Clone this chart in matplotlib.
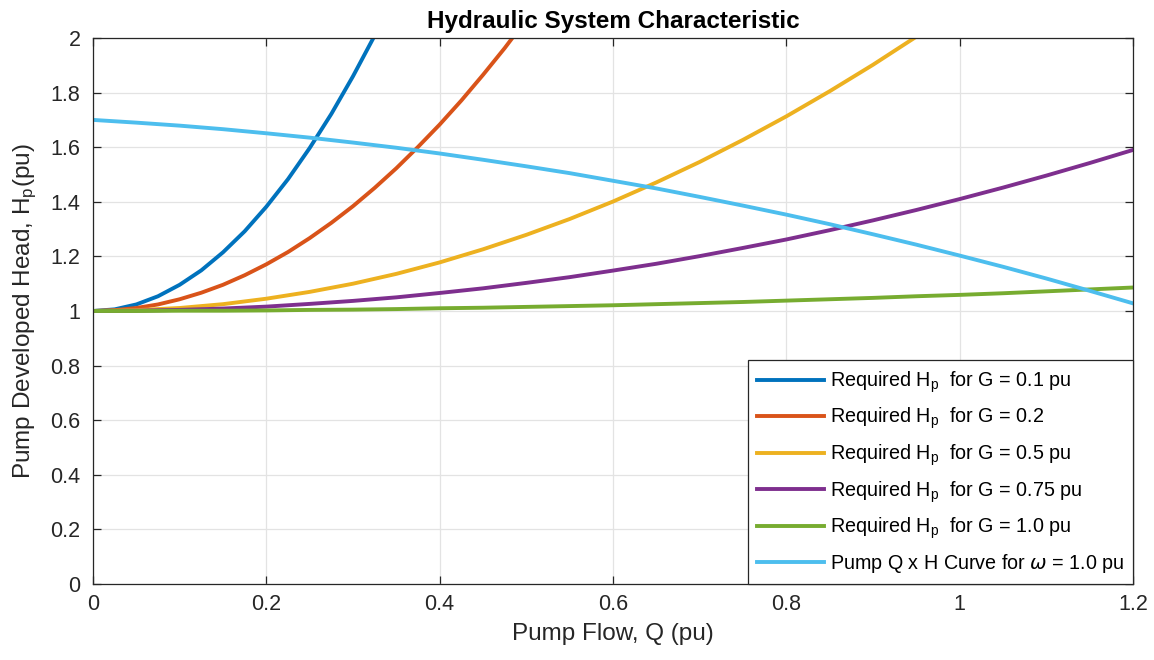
import numpy as np
import matplotlib.pyplot as plt
from matplotlib.ticker import FormatStrFormatter

plt.rcParams['font.family'] = ['Liberation Sans', 'DejaVu Sans']
plt.rcParams['mathtext.default'] = 'regular'

# Flow values (pu)
q_fine = [0, 0.025, 0.05, 0.075, 0.1, 0.125, 0.15, 0.175, 0.2, 0.225, 0.25,
          0.275, 0.3, 0.325, 0.35, 0.375, 0.4, 0.425, 0.45, 0.475, 0.5]
q = [0, 0.05, 0.1, 0.15, 0.2, 0.25, 0.3, 0.35, 0.4, 0.45, 0.5, 0.55, 0.6,
     0.65, 0.7, 0.75, 0.8, 0.85, 0.9, 0.95, 1.0, 1.05, 1.1, 1.15, 1.2]

# Required head for each G
h_g01 = [1.000, 1.006, 1.024, 1.054, 1.096, 1.149, 1.215, 1.292, 1.382, 1.483,
         1.597, 1.722, 1.860, 2.009, 2.170]
h_g02 = [1.000, 1.003, 1.011, 1.024, 1.043, 1.067, 1.096, 1.131, 1.171, 1.216,
         1.267, 1.323, 1.384, 1.451, 1.523, 1.601, 1.683, 1.771, 1.865, 1.963,
         2.068]
h_g05 = [1.000, 1.003, 1.011, 1.025, 1.045, 1.070, 1.100, 1.136, 1.178, 1.226,
         1.279, 1.337, 1.401, 1.471, 1.546, 1.627, 1.713, 1.805, 1.902, 2.005,
         2.114]
h_g075 = [1.000, 1.001, 1.004, 1.009, 1.016, 1.026, 1.037, 1.050, 1.066, 1.083,
          1.103, 1.124, 1.148, 1.173, 1.201, 1.231, 1.262, 1.296, 1.332, 1.370,
          1.410, 1.452, 1.496, 1.542, 1.590]
h_g10 = [1.000, 1.000, 1.001, 1.001, 1.002, 1.004, 1.005, 1.007, 1.010, 1.012,
         1.015, 1.018, 1.021, 1.025, 1.029, 1.033, 1.038, 1.043, 1.048, 1.054,
         1.059, 1.065, 1.072, 1.079, 1.086]
# Pump Q x H curve
h_pump = [1.700, 1.690, 1.679, 1.666, 1.651, 1.635, 1.617, 1.598, 1.577, 1.554,
          1.530, 1.505, 1.477, 1.449, 1.418, 1.386, 1.353, 1.318, 1.281, 1.243,
          1.203, 1.162, 1.119, 1.074, 1.028]

colors = ['#0072BD', '#D95319', '#EDB120', '#7E2F8E', '#77AC30', '#4DBEEE']
labels = ['Required H$_p$  for G = 0.1 pu',
          'Required H$_p$  for G = 0.2',
          'Required H$_p$  for G = 0.5 pu',
          'Required H$_p$  for G = 0.75 pu',
          'Required H$_p$  for G = 1.0 pu',
          'Pump Q x H Curve for $\\mathit{\\omega}$ = 1.0 pu']

fig = plt.figure(figsize=(11.54, 6.6), dpi=100)
ax = fig.add_axes([0.0806, 0.1152, 0.9012, 0.8272])

ax.plot(q_fine[:len(h_g01)], h_g01, color=colors[0], lw=2.8, label=labels[0])
ax.plot(q_fine, h_g02, color=colors[1], lw=2.8, label=labels[1])
ax.plot(q[:len(h_g05)], h_g05, color=colors[2], lw=2.8, label=labels[2])
ax.plot(q, h_g075, color=colors[3], lw=2.8, label=labels[3])
ax.plot(q, h_g10, color=colors[4], lw=2.8, label=labels[4])
ax.plot(q, h_pump, color=colors[5], lw=2.8, label=labels[5])

ax.set_xlim(0, 1.2)
ax.set_ylim(0, 2)
ax.set_xticks(np.arange(0, 1.21, 0.2))
ax.set_yticks(np.arange(0, 2.01, 0.2))
ax.xaxis.set_major_formatter(FormatStrFormatter('%g'))
ax.yaxis.set_major_formatter(FormatStrFormatter('%g'))
ax.grid(True, color='#e3e3e3', lw=0.9)
ax.set_axisbelow(True)
ax.tick_params(direction='in', top=True, right=True, length=6, width=0.9,
               colors='#262626', labelsize=15.5)
ax.tick_params(axis='x', pad=7)
ax.tick_params(axis='y', pad=9)
for s in ax.spines.values():
    s.set_color('#262626')
    s.set_linewidth(0.9)

ax.set_xlabel('Pump Flow, Q (pu)', fontsize=17.5, color='#262626', labelpad=6)
ax.set_ylabel('Pump Developed Head, H$_p$(pu)', fontsize=17.5, color='#262626', labelpad=8)
ax.set_title('Hydraulic System Characteristic', fontsize=17.5, fontweight='bold', pad=7)

leg = ax.legend(loc='lower right', borderaxespad=0, fancybox=False, fontsize=14.2,
                handlelength=3.4, handletextpad=0.3, labelspacing=0.56,
                borderpad=0.45, framealpha=1)
leg.get_frame().set_edgecolor('#262626')
leg.get_frame().set_linewidth(0.9)

fig.savefig('out.png', dpi=100)
